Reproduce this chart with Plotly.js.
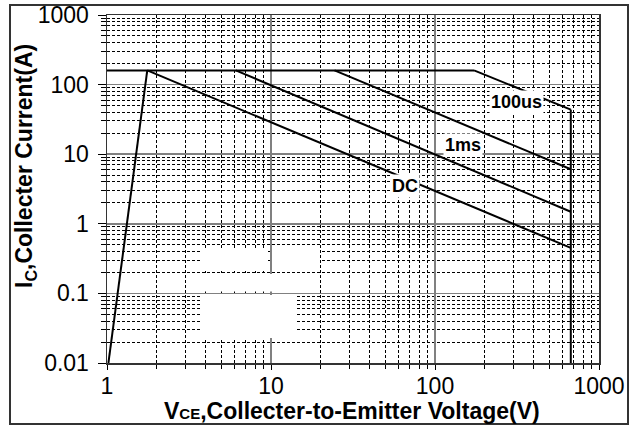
<!DOCTYPE html>
<html><head><meta charset="utf-8">
<script src="https://cdn.plot.ly/plotly-3.0.1.min.js"></script>
<style>html,body{margin:0;padding:0;background:#fff}#chart{width:641px;height:427px}</style>
</head><body><div id="chart"></div>
<script>
// Safe operating area boundaries (V, A)
const vRise = [1.02, 1.76],  iRise = [0.01, 160];
const vTop = [1, 173],       iTop = [160, 160];
const v100us = [173, 673],   i100us = [160, 43.7];
const vLimit = [673, 673],   iLimit = [43.7, 0.01];
const v1ms = [24.4, 673],    i1ms = [160, 6.08];
const v10ms = [6.1, 673],    i10ms = [160, 1.49];
const vDC = [1.76, 673],     iDC = [160, 0.45];

const labelText = ["100us", "1ms", "DC"];
const labelV = [314, 149, 66];
const labelI = [57, 13.6, 3.5];

const xTickVals = [1, 10, 100, 1000];
const xTickText = ["1", "10", "100", "1000"];
const yTickVals = [0.01, 0.1, 1, 10, 100, 1000];
const yTickText = ["0.01", "0.1", "1", "10", "100", "1000"];

const lineStyle = {color: "#000", width: 2};
const series = [[vRise, iRise], [vTop, iTop], [v100us, i100us], [vLimit, iLimit],
                [v1ms, i1ms], [v10ms, i10ms], [vDC, iDC]];
const traces = series.map(s => ({x: s[0], y: s[1], type: "scatter", mode: "lines",
  line: lineStyle, hoverinfo: "skip", showlegend: false}));

const font = "Liberation Sans, Arial, sans-serif";
// plot area pixel box: left 107, right 599, top 15, bottom 363
const L = 107, R = 599, T = 15, B = 363;
const px = p => (p - L) / (R - L);
const py = p => (B - p) / (B - T);

const annotations = labelText.map((t, k) => ({
  x: Math.log10(labelV[k]), y: Math.log10(labelI[k]), xref: "x", yref: "y",
  text: "<b>" + t + "</b>", showarrow: false, bgcolor: "#fff", borderpad: 1,
  font: {family: font, size: 18, color: "#000"}
}));
annotations.push({
  xref: "paper", yref: "paper", x: px(25), y: py(166), textangle: -90,
  xanchor: "center", yanchor: "middle",
  text: "<b>I<sub>C</sub>,Collecter Current(A)</b>", showarrow: false,
  font: {family: font, size: 23, color: "#000"}
});
annotations.push({
  xref: "paper", yref: "paper", x: px(352), y: py(411),
  xanchor: "center", yanchor: "middle",
  text: "<b>V<span style=\"font-size:15px\">CE</span>,Collecter-to-Emitter Voltage(V)</b>", showarrow: false,
  font: {family: font, size: 23, color: "#000"}
});

const white = (x0, x1, y0, y1) => ({type: "rect", xref: "paper", yref: "paper",
  x0: px(x0), x1: px(x1), y0: py(y1), y1: py(y0), fillcolor: "#fff",
  line: {width: 0}, layer: "above"});

const layout = {
  width: 641, height: 427,
  margin: {l: L, r: 641 - R, t: T, b: 427 - B},
  paper_bgcolor: "#fff", plot_bgcolor: "#fff",
  font: {family: font, size: 23, color: "#000"},
  xaxis: {
    type: "log", range: [0, 3], tickvals: xTickVals, ticktext: xTickText,
    showgrid: true, gridcolor: "#808080", gridwidth: 1.5,
    ticks: "outside", ticklen: 5, tickcolor: "#000", ticklabelstandoff: -3,
    showline: true, mirror: true, linecolor: "#333", linewidth: 1.5,
    zeroline: false,
    minor: {dtick: "D1", showgrid: true, gridcolor: "#000", griddash: "3px,2px",
            gridwidth: 1, ticks: "outside", ticklen: 4, tickcolor: "#000"},
    tickfont: {family: font, size: 23, color: "#000"}
  },
  yaxis: {
    type: "log", range: [-2, 3], tickvals: yTickVals, ticktext: yTickText,
    showgrid: true, gridcolor: "#808080", gridwidth: 1.5,
    ticks: "outside", ticklen: 8, tickcolor: "#000", ticklabelstandoff: 4,
    showline: true, mirror: true, linecolor: "#333", linewidth: 1.5,
    zeroline: false,
    minor: {dtick: "D1", showgrid: true, gridcolor: "#000", griddash: "3px,2px",
            gridwidth: 1, ticks: "outside", ticklen: 5, tickcolor: "#000"},
    tickfont: {family: font, size: 23, color: "#000"}
  },
  shapes: [
    white(200, 268, 250, 271), white(272, 320, 250, 271),
    white(200, 296, 274, 291.5), white(200, 296, 295, 338),
    {type: "rect", xref: "paper", yref: "paper", x0: px(10), x1: px(628),
     y0: py(424), y1: py(5), line: {color: "#333", width: 2}, fillcolor: "rgba(0,0,0,0)", layer: "above"}
  ],
  annotations: annotations
};

Plotly.newPlot("chart", traces, layout, {staticPlot: true, displayModeBar: false});
</script></body></html>
